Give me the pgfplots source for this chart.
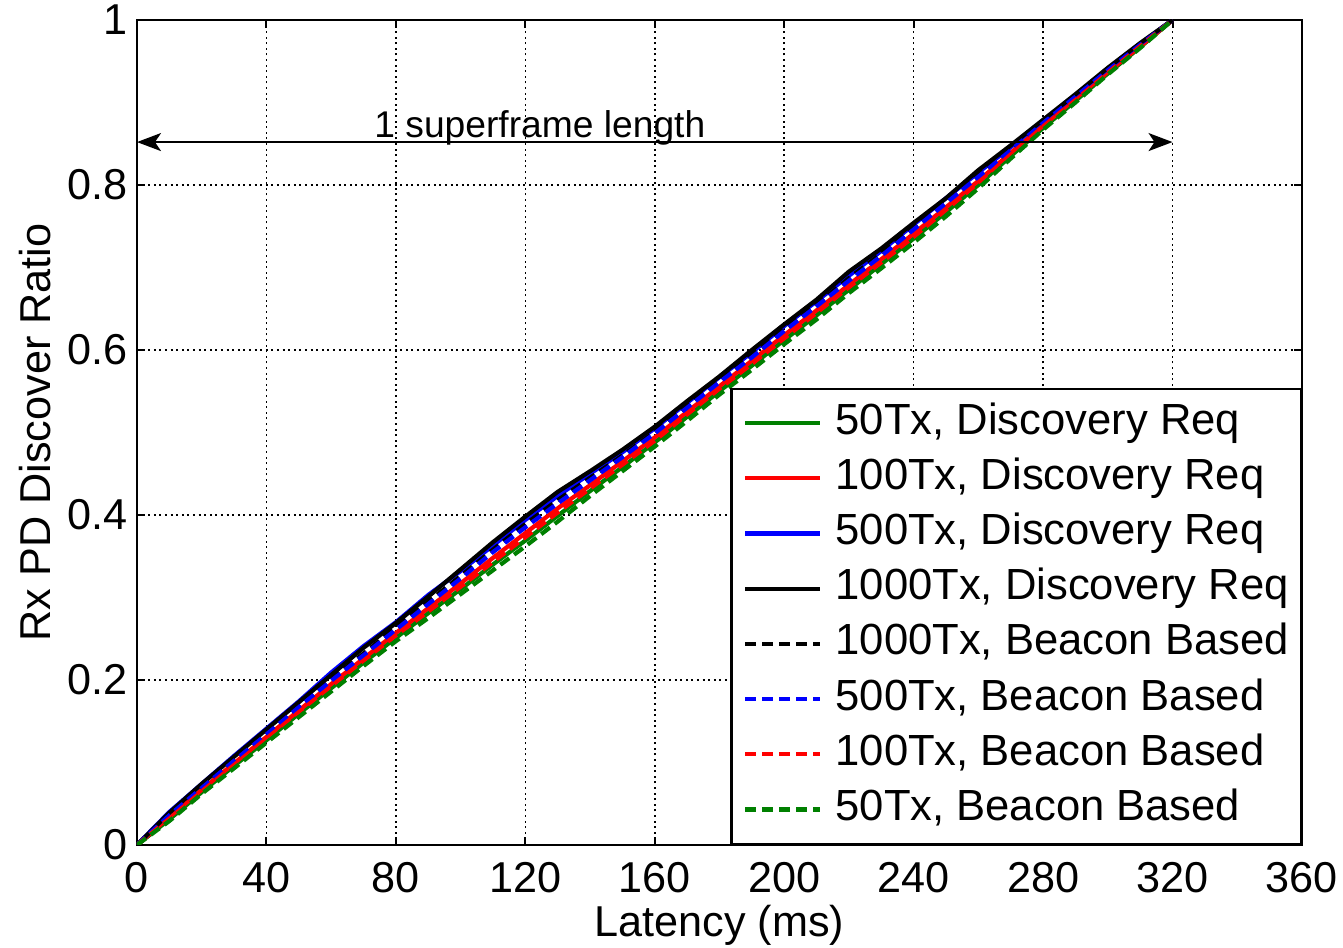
\documentclass[border=0pt]{standalone}
\usepackage{fontspec}
\setmainfont{Liberation Sans}
\usepackage{pgfplots}
\usepackage{pgfplotstable}
\pgfplotsset{compat=1.18}
\usetikzlibrary{arrows.meta}
\definecolor{mgreen}{rgb}{0,0.5,0}

% discovery ratio vs latency; gs..ks = discovery req (solid), kd..gd = beacon based (dashed)
\pgfplotstableread{
x    gs    rs    bs    ks    kd    bd    rd    gd
0    0     0     0     0     0     0     0     0
10   0.031 0.034 0.040 0.039 0.037 0.036 0.032 0.029
20   0.064 0.067 0.074 0.074 0.071 0.069 0.065 0.062
30   0.096 0.099 0.108 0.107 0.103 0.102 0.097 0.093
40   0.127 0.131 0.141 0.140 0.136 0.134 0.129 0.124
50   0.159 0.163 0.174 0.173 0.169 0.167 0.161 0.155
60   0.190 0.195 0.209 0.206 0.201 0.199 0.192 0.186
70   0.221 0.226 0.241 0.239 0.232 0.230 0.223 0.217
80   0.251 0.257 0.270 0.269 0.264 0.261 0.254 0.247
90   0.281 0.287 0.303 0.301 0.295 0.292 0.283 0.275
100  0.310 0.317 0.332 0.334 0.326 0.323 0.313 0.304
110  0.340 0.348 0.363 0.367 0.358 0.355 0.343 0.333
120  0.369 0.378 0.394 0.398 0.389 0.385 0.373 0.362
130  0.399 0.408 0.423 0.428 0.418 0.414 0.403 0.392
140  0.429 0.436 0.450 0.453 0.445 0.442 0.432 0.423
150  0.458 0.465 0.476 0.479 0.472 0.470 0.461 0.453
160  0.488 0.494 0.505 0.507 0.501 0.499 0.490 0.483
170  0.519 0.525 0.536 0.538 0.532 0.530 0.522 0.514
180  0.550 0.556 0.567 0.568 0.564 0.561 0.553 0.546
190  0.581 0.587 0.597 0.600 0.594 0.591 0.583 0.576
200  0.612 0.618 0.629 0.631 0.625 0.623 0.614 0.607
210  0.642 0.648 0.659 0.661 0.655 0.653 0.645 0.637
220  0.673 0.679 0.690 0.695 0.687 0.684 0.676 0.669
230  0.704 0.710 0.720 0.723 0.717 0.714 0.706 0.699
240  0.735 0.741 0.752 0.754 0.748 0.746 0.737 0.730
250  0.767 0.773 0.784 0.784 0.780 0.778 0.770 0.762
260  0.800 0.805 0.815 0.818 0.812 0.810 0.802 0.796
270  0.835 0.839 0.846 0.848 0.844 0.842 0.837 0.832
280  0.869 0.872 0.878 0.879 0.876 0.875 0.871 0.867
290  0.902 0.905 0.909 0.910 0.908 0.907 0.903 0.900
300  0.935 0.937 0.941 0.942 0.940 0.939 0.936 0.934
310  0.967 0.968 0.971 0.972 0.970 0.970 0.968 0.966
320  1     1     1     1     1     1     1     1
}\data

\begin{document}
\begin{tikzpicture}
\useasboundingbox (-34.25pt,-25.75pt) rectangle (301.5pt,211.25pt);
\begin{axis}[
  at={(0,0)}, anchor=south west,
  scale only axis,
  width=291.25pt, height=206.25pt,
  xmin=0, xmax=360, ymin=0, ymax=1,
  xtick={0,40,...,360},
  ytick={0,0.2,0.4,0.6,0.8,1},
  grid=major,
  grid style={black, line width=0.4pt, dash pattern=on 0.5pt off 0.9pt},
  tick align=inside, tick pos=both,
  major tick length=2pt,
  tick style={black, line width=0.5pt},
  axis line style={line width=0.7pt},
  tick label style={font=\fontsize{10.8}{12}\selectfont},
  /pgf/number format/assume math mode=true,
  xticklabel style={yshift=-0.75pt},
  yticklabel style={inner sep=2.25pt},
  label style={font=\fontsize{10.8}{12}\selectfont},
  xlabel={Latency (ms)},
  ylabel={Rx PD Discover Ratio},
  xlabel style={at={(axis description cs:0.5,-0.097)}, anchor=center},
  ylabel style={at={(axis description cs:-0.0876,0.5)}, anchor=center},
  legend style={at={(1,0)}, anchor=south east, draw=black, line width=0.6pt,
    fill=white, font=\fontsize{10.9}{12}\selectfont,
    inner xsep=3pt, inner ysep=3.3pt, row sep=3.3pt, column sep=3.25pt,
    nodes={inner sep=0pt, text height=8pt, text depth=2.5pt}},
  legend cell align=left,
  legend image code/.code={\draw[#1] (0pt,0pt) -- (18.75pt,0pt);},
  every axis plot/.append style={line width=1.05pt},
]
\addplot[mgreen] table[x=x, y=gs]{\data};
\addlegendentry{50Tx, Discovery Req}
\addplot[red] table[x=x, y=rs]{\data};
\addlegendentry{100Tx, Discovery Req}
\addplot[blue] table[x=x, y=bs]{\data};
\addlegendentry{500Tx, Discovery Req}
\addplot[black] table[x=x, y=ks]{\data};
\addlegendentry{1000Tx, Discovery Req}
\addplot[black, dash pattern=on 2.75pt off 1.5pt] table[x=x, y=kd]{\data};
\addlegendentry{1000Tx, Beacon Based}
\addplot[blue, dash pattern=on 2.75pt off 1.5pt] table[x=x, y=bd]{\data};
\addlegendentry{500Tx, Beacon Based}
\addplot[red, dash pattern=on 2.75pt off 1.5pt] table[x=x, y=rd]{\data};
\addlegendentry{100Tx, Beacon Based}
\addplot[mgreen, dash pattern=on 2.75pt off 1.5pt] table[x=x, y=gd]{\data};
\addlegendentry{50Tx, Beacon Based}

% superframe annotation
\draw[{Stealth[length=6pt,width=4.5pt,inset=1.5pt]}-{Stealth[length=6pt,width=4.5pt,inset=1.5pt]}, line width=0.5pt]
  (axis cs:0,0.852) -- (axis cs:320,0.852);
\node[anchor=base, font=\fontsize{9.3}{10}\selectfont, inner sep=0pt]
  at (axis cs:124.5,0.857) {1 superframe length};
\end{axis}
\end{tikzpicture}
\end{document}
